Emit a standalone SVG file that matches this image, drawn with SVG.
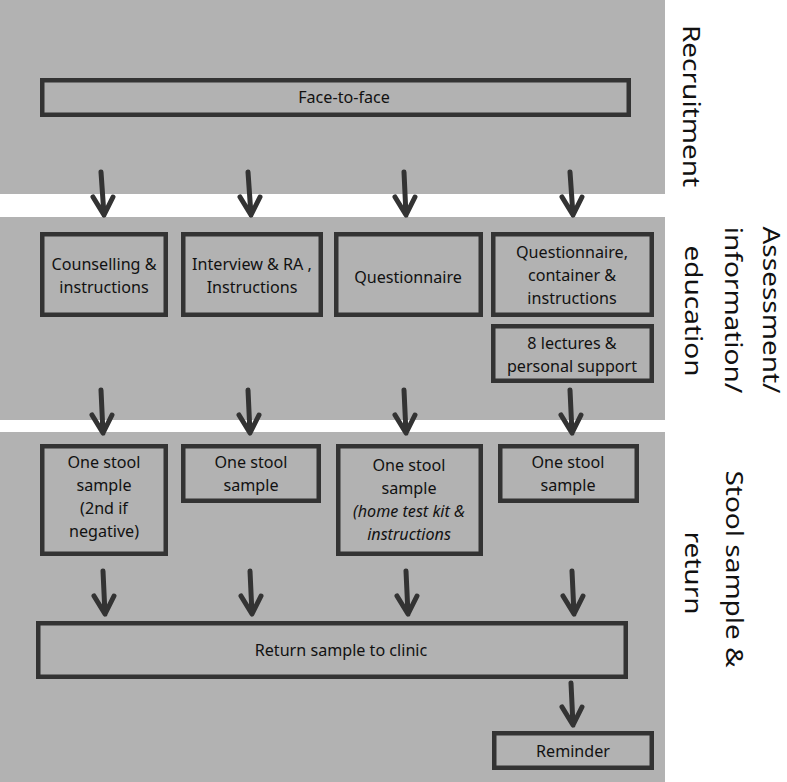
<svg xmlns="http://www.w3.org/2000/svg" width="787" height="782" viewBox="0 0 787 782">
<defs>
<style>
.band{fill:#b2b2b2;}
.box{fill:none;stroke:#333;stroke-width:4.5;}
.t{font-family:"Noto Sans","Open Sans","Liberation Sans",sans-serif;font-size:16.8px;fill:#111;text-anchor:middle;}
.i{font-style:italic;}
.lab{font-family:"Noto Sans","Open Sans","Liberation Sans",sans-serif;font-size:28px;fill:#111;text-anchor:middle;}
.arr{fill:none;stroke:#333;stroke-width:5;stroke-linecap:round;stroke-linejoin:round;}
</style>
</defs>
<rect width="787" height="782" fill="#fff"/>
<g id="bands">
<rect class="band" x="0" y="0" width="665" height="194"/>
<rect class="band" x="0" y="217" width="665" height="203"/>
<rect class="band" x="0" y="432" width="665" height="350"/>
</g>
<g id="labels">
<text class="lab" transform="translate(683 106) scale(0.84 1) rotate(90)">Recruitment</text>
<text class="lab" transform="translate(763 310) scale(0.82 1) rotate(90)">Assessment/</text>
<text class="lab" transform="translate(725 310) scale(0.84 1) rotate(90)">information/</text>
<text class="lab" transform="translate(685 311) scale(0.84 1) rotate(90)">education</text>
<text class="lab" transform="translate(726 569) scale(0.84 1) rotate(90)">Stool sample &amp;</text>
<text class="lab" transform="translate(685 573) scale(0.84 1) rotate(90)">return</text>
</g>
<g id="face">
<rect class="box" x="42.25" y="80.25" width="586.5" height="34.5"/>
<g transform="translate(344 0) scale(0.96 1)"><text class="t" x="0" y="103">Face-to-face</text></g>
</g>
<g id="counselling">
<rect class="box" x="42.25" y="234.25" width="123.5" height="80.5"/>
<g transform="translate(104 0) scale(0.96 1)"><text class="t" x="0" y="270">Counselling &amp;</text><text class="t" x="0" y="293">instructions</text></g>
</g>
<g id="interview">
<rect class="box" x="183.25" y="234.25" width="137.5" height="80.5"/>
<g transform="translate(252 0) scale(0.96 1)"><text class="t" x="0" y="270">Interview &amp; RA ,</text><text class="t" x="0" y="293">Instructions</text></g>
</g>
<g id="questionnaire">
<rect class="box" x="336.25" y="234.25" width="144.5" height="80.5"/>
<g transform="translate(408 0) scale(0.96 1)"><text class="t" x="0" y="283">Questionnaire</text></g>
</g>
<g id="questionnaire-container">
<rect class="box" x="493.25" y="234.25" width="158.5" height="80.5"/>
<g transform="translate(572 0) scale(0.96 1)"><text class="t" x="0" y="258">Questionnaire,</text><text class="t" x="0" y="281">container &amp;</text><text class="t" x="0" y="304">instructions</text></g>
</g>
<g id="lectures">
<rect class="box" x="493.25" y="326.25" width="158.5" height="54.5"/>
<g transform="translate(572 0) scale(0.96 1)"><text class="t" x="0" y="349">8 lectures &amp;</text><text class="t" x="0" y="372">personal support</text></g>
</g>
<g id="stool1">
<rect class="box" x="42.25" y="446.25" width="123.5" height="107.5"/>
<g transform="translate(104 0) scale(0.96 1)"><text class="t" x="0" y="468">One stool</text><text class="t" x="0" y="491">sample</text><text class="t" x="0" y="514">(2nd if</text><text class="t" x="0" y="537">negative)</text></g>
</g>
<g id="stool2">
<rect class="box" x="183.25" y="446.25" width="135.5" height="54.5"/>
<g transform="translate(251 0) scale(0.96 1)"><text class="t" x="0" y="468">One stool</text><text class="t" x="0" y="491">sample</text></g>
</g>
<g id="stool3">
<rect class="box" x="338.25" y="446.25" width="142.5" height="107.5"/>
<g transform="translate(409 0) scale(0.96 1)"><text class="t" x="0" y="471">One stool</text><text class="t" x="0" y="494">sample</text><text class="t i" x="0" y="517">(home test kit &amp;</text><text class="t i" x="0" y="540">instructions</text></g>
</g>
<g id="stool4">
<rect class="box" x="500.25" y="446.25" width="136.5" height="54.5"/>
<g transform="translate(568 0) scale(0.96 1)"><text class="t" x="0" y="468">One stool</text><text class="t" x="0" y="491">sample</text></g>
</g>
<g id="return">
<rect class="box" x="38.25" y="623.25" width="587.5" height="53.5"/>
<g transform="translate(341 0) scale(0.96 1)"><text class="t" x="0" y="656">Return sample to clinic</text></g>
</g>
<g id="reminder">
<rect class="box" x="494.25" y="733.25" width="157.5" height="34.5"/>
<g transform="translate(573 0) scale(0.96 1)"><text class="t" x="0" y="757">Reminder</text></g>
</g>
<g id="connectors">
<path class="arr" d="M101 172 L104 215 M93 197 L104 215 L113 197"/>
<path class="arr" d="M248 172 L251 215 M240 197 L251 215 L260 197"/>
<path class="arr" d="M404 172 L406 215 M395 197 L406 215 L415 197"/>
<path class="arr" d="M570 172 L573 215 M562 197 L573 215 L582 197"/>
<path class="arr" d="M101 390 L103 433 M92 415 L103 433 L112 415"/>
<path class="arr" d="M248 390 L250 433 M239 415 L250 433 L259 415"/>
<path class="arr" d="M404 390 L406 433 M395 415 L406 433 L415 415"/>
<path class="arr" d="M570 390 L572 433 M561 415 L572 433 L581 415"/>
<path class="arr" d="M103 571 L105 614 M94 596 L105 614 L114 596"/>
<path class="arr" d="M250 571 L252 614 M241 596 L252 614 L261 596"/>
<path class="arr" d="M406 571 L408 614 M397 596 L408 614 L417 596"/>
<path class="arr" d="M572 571 L574 614 M563 596 L574 614 L583 596"/>
<path class="arr" d="M571 683 L573 725 M562 707 L573 725 L582 707"/>
</g>
</svg>
